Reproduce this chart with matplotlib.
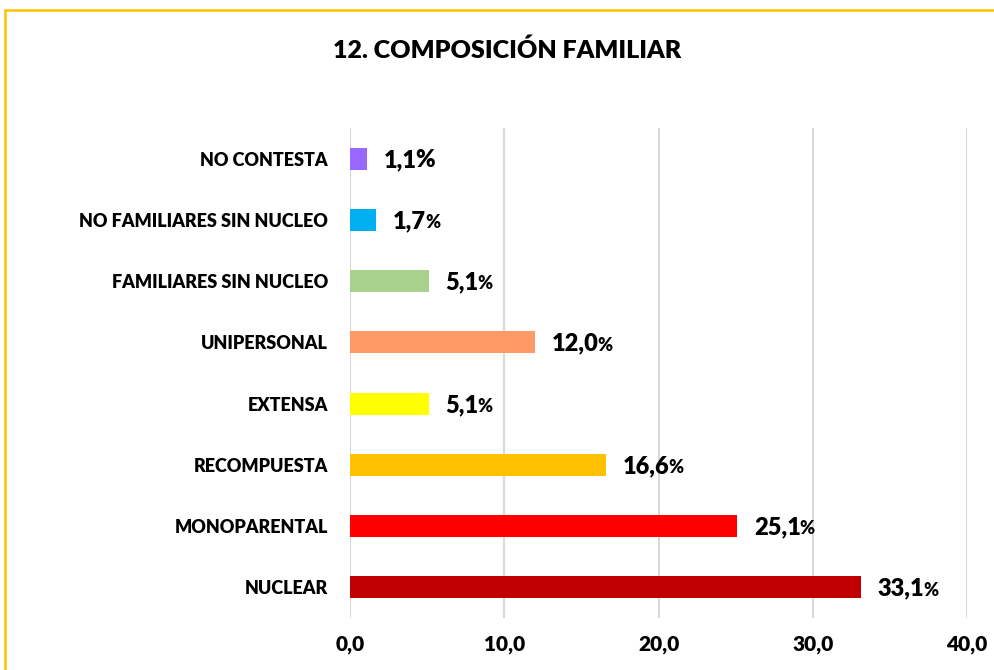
import matplotlib
matplotlib.use("Agg")
import matplotlib.pyplot as plt
from matplotlib.patches import Rectangle

plt.rcParams['font.family'] = ['Lato', 'DejaVu Sans']

categories = ["NUCLEAR", "MONOPARENTAL", "RECOMPUESTA", "EXTENSA",
              "UNIPERSONAL", "FAMILIARES SIN NUCLEO",
              "NO FAMILIARES SIN NUCLEO", "NO CONTESTA"]
values = [33.1, 25.1, 16.6, 5.1, 12.0, 5.1, 1.7, 1.1]
labels = ["33,1", "25,1", "16,6", "5,1", "12,0", "5,1", "1,7", "1,1"]
colors = ["#C00000", "#FF0000", "#FFC000", "#FFFF00",
          "#FF9966", "#A9D18E", "#00B0F0", "#9966FF"]
xticks = [0, 10, 20, 30, 40]
xtick_labels = ["0,0", "10,0", "20,0", "30,0", "40,0"]

W = "heavy"

fig = plt.figure(figsize=(9.95, 6.7), dpi=100)
ax = fig.add_axes([0.3518, 0.0776, 0.6201, 0.7314])

# gold frame around the chart (cut off at right and bottom like the source)
fig.patches.append(Rectangle((5 / 995, -0.1), 1.2, 1 - 10 / 670 + 0.1,
                             transform=fig.transFigure, fill=False,
                             edgecolor="#FFC000", linewidth=1.8))

y = range(len(categories))
ax.barh(y, values, height=0.36, color=colors, zorder=3)
ax.set_xlim(0, 40)
ax.set_ylim(-0.5, len(categories) - 0.5)
ax.set_xticks(xticks)
ax.set_xticklabels(xtick_labels, fontsize=15, fontweight=W)
ax.set_yticks(list(y))
ax.set_yticklabels(categories, fontsize=13, fontweight=W)
ax.tick_params(length=0)
ax.tick_params(axis="x", pad=12)
ax.tick_params(axis="y", pad=16)
ax.grid(axis="x", color="#D9D9D9", linewidth=1.5, zorder=0)
for s in ax.spines.values():
    s.set_visible(False)

fig.canvas.draw()
renderer = fig.canvas.get_renderer()
for i, (v, lab) in enumerate(zip(values, labels)):
    t = ax.annotate(lab, (v, i), xytext=(12, -6), textcoords="offset points",
                    ha="left", va="baseline", fontsize=17, fontweight=W)
    bb = t.get_window_extent(renderer)
    base = ax.transData.transform((v, i))[1] - 6 * fig.dpi / 72
    pct_size = 17 if i == len(values) - 1 else 13
    fig.text(bb.x1 / fig.bbox.width - 0.001, base / fig.bbox.height,
             "%", ha="left", va="baseline", fontsize=pct_size, fontweight=W)

fig.text(0.51, 0.925, "12. COMPOSICIÓN FAMILIAR", ha="center", va="center",
         fontsize=18, fontweight=W)

fig.savefig("out.png", dpi=100)
